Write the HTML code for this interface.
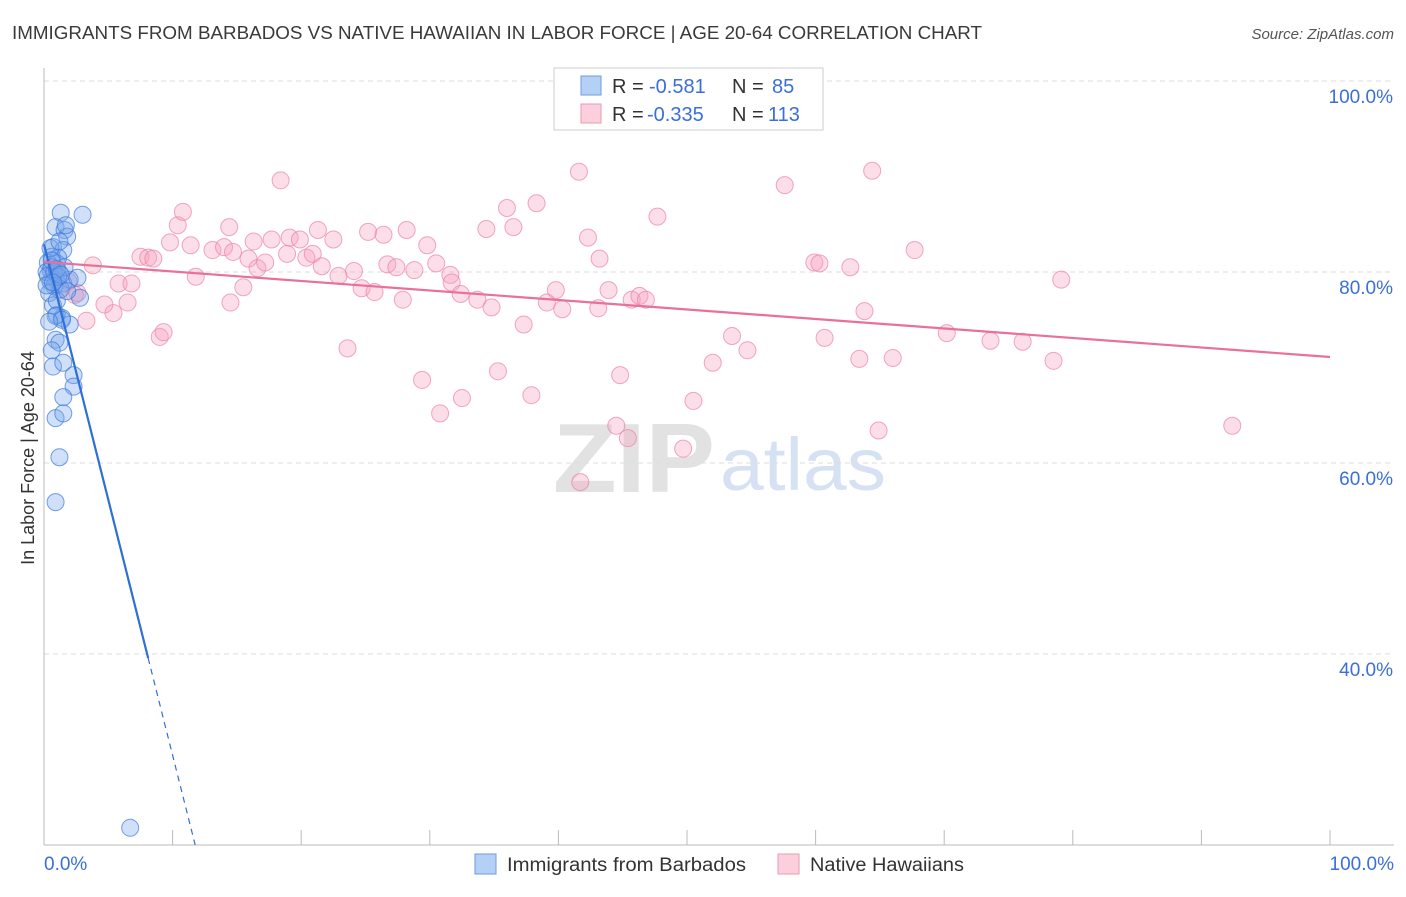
<!DOCTYPE html>
<html><head><meta charset="utf-8"><style>
body{margin:0;background:#fff;font-family:"Liberation Sans",sans-serif}
svg text{font-family:"Liberation Sans",sans-serif}
</style></head><body>
<svg id="chart" width="1406" height="892" viewBox="0 0 1406 892" xmlns="http://www.w3.org/2000/svg">
<text x="12" y="39" font-size="18" fill="#3a3a3a" textLength="970" lengthAdjust="spacingAndGlyphs">IMMIGRANTS FROM BARBADOS VS NATIVE HAWAIIAN IN LABOR FORCE | AGE 20-64 CORRELATION CHART</text>
<text x="1394" y="39" font-size="15" fill="#555" text-anchor="end" font-style="italic">Source: ZipAtlas.com</text>
<text x="553" y="492" font-size="98" fill="#e2e2e2" font-family="Liberation Serif" font-weight="bold" textLength="162" lengthAdjust="spacingAndGlyphs">ZIP</text>
<text x="720" y="490" font-size="74" fill="#d6e2f3" textLength="166" lengthAdjust="spacingAndGlyphs">atlas</text>
<text transform="translate(34,458) rotate(-90)" font-size="18" fill="#333" text-anchor="middle">In Labor Force | Age 20-64</text>
<g id="grid"></g><g id="axes"></g><g id="pts"></g><g id="lines"></g>
<g>
<rect x="554" y="68" width="269" height="62" fill="#fff" stroke="#ccc"/>
<rect x="581" y="76" width="20" height="19" fill="#b5d0f5" stroke="#6c9be0"/>
<rect x="581" y="104" width="20" height="19" fill="#fbcfdc" stroke="#ee9ab5"/>
<text x="612" y="93" font-size="20" fill="#333">R =</text>
<text x="649" y="93" font-size="20" fill="#3a6fd8">-0.581</text>
<text x="732" y="93" font-size="20" fill="#333">N =</text>
<text x="772" y="93" font-size="20" fill="#3a6fd8">85</text>
<text x="612" y="121" font-size="20" fill="#333">R =</text>
<text x="647" y="121" font-size="20" fill="#3a6fd8">-0.335</text>
<text x="732" y="121" font-size="20" fill="#333">N =</text>
<text x="768" y="121" font-size="20" fill="#3a6fd8">113</text>
</g>
<g>
<rect x="475" y="854" width="21" height="20" fill="#b5d0f5" stroke="#6c9be0"/>
<text x="507" y="871" font-size="19" fill="#333" textLength="239" lengthAdjust="spacingAndGlyphs">Immigrants from Barbados</text>
<rect x="778" y="854" width="21" height="20" fill="#fbcfdc" stroke="#ee9ab5"/>
<text x="810" y="871" font-size="19" fill="#333" textLength="154" lengthAdjust="spacingAndGlyphs">Native Hawaiians</text>
</g>
</svg>
<script>
const yTicks=[100,80,60,40];
const yTickLabels=["100.0%","80.0%","60.0%","40.0%"];
const xTickLabels=["0.0%","100.0%"];
const blueX=[1.3,3.0,0.9,1.6,1.8,0.7,1.5,0.6,1.0,0.5,1.2,0.9,1.5,2.0,2.6,2.8,1.0,1.4,2.0,0.9,1.2,0.6,0.7,1.5,2.3,2.3,1.5,0.9,1.5,1.2,0.9,6.7,0.3,0.5,0.8,0.4,1.1,0.6,1.3,0.7,1.0,0.2,1.6,1.8,0.5,1.2,1.7,0.9,1.4,0.4,0.3,0.8,1.1,0.6,0.2,1.0,1.3,0.7];
const blueY=[86.2,86.0,84.7,84.4,83.7,82.6,82.3,81.6,80.9,80.2,79.9,79.2,78.8,79.2,79.4,77.3,75.5,75.2,74.5,72.9,72.6,71.8,70.1,70.5,69.2,68.0,66.9,64.7,65.2,60.6,55.9,21.8,81.0,79.0,78.5,77.8,81.5,80.5,78.2,76.5,77.0,80.0,80.5,78.0,82.5,83.2,84.9,75.4,75.0,74.8,79.6,80.0,79.5,81.2,78.6,80.3,79.7,78.9];
const pinkX=[3.8,3.3,4.7,5.4,5.8,6.5,6.8,7.5,8.1,8.5,9.0,9.3,9.8,10.4,10.8,11.4,11.8,13.1,14.5,14.0,14.4,14.7,15.5,15.9,16.3,16.6,17.2,17.7,18.4,18.9,19.1,19.9,20.4,20.9,21.3,21.6,22.5,22.9,23.6,24.1,24.7,25.2,25.7,26.4,26.7,27.4,27.9,28.2,28.8,29.4,29.8,30.5,30.8,31.6,31.7,32.5,32.4,33.7,34.4,34.8,35.3,36.0,36.5,37.3,37.9,38.3,39.1,39.8,40.3,41.6,41.7,42.3,43.1,43.2,43.9,44.5,44.8,45.4,45.7,46.3,46.8,47.7,49.7,50.5,52.0,53.5,54.7,57.6,59.9,60.3,60.7,62.7,63.4,63.8,64.4,64.9,66.0,67.7,70.2,73.6,76.1,78.5,79.1,92.4,0.9,1.2,1.9,2.4,2.6];
const pinkY=[80.7,74.9,76.6,75.7,78.8,76.8,78.8,81.6,81.5,81.4,73.2,73.7,83.1,84.9,86.3,82.8,79.5,82.3,76.8,82.6,84.7,82.1,78.4,81.4,83.2,80.4,81.0,83.4,89.6,81.9,83.6,83.4,81.5,81.9,84.4,80.6,83.4,79.6,72.0,80.1,78.3,84.2,77.9,83.9,80.8,80.5,77.1,84.4,80.2,68.7,82.8,80.9,65.2,79.7,78.9,66.8,77.7,77.1,84.5,76.3,69.6,86.7,84.7,74.5,67.1,87.2,76.8,78.1,76.1,90.5,58.0,83.6,76.2,81.4,78.1,63.9,69.2,62.6,77.1,77.5,77.1,85.8,61.5,66.5,70.5,73.3,71.8,89.1,81.0,80.9,73.1,80.5,70.9,75.9,90.6,63.4,71.0,82.3,73.6,72.8,72.7,70.7,79.2,63.9,79.4,78.1,79.0,77.6,77.8];
const blueLine=[82.9,-5.35];
const pinkLine=[81.05,-0.0995];
const NS="http://www.w3.org/2000/svg";
const X=v=>44+v*12.86, Y=v=>81+(100-v)*9.55;
function mk(tag,attrs,parent){const e=document.createElementNS(NS,tag);for(const k in attrs)e.setAttribute(k,attrs[k]);document.getElementById(parent).appendChild(e);return e;}
yTicks.forEach((t,i)=>{
 const g=mk('line',{x1:44,x2:1394,y1:Y(t),y2:Y(t),stroke:'#ddd','stroke-dasharray':'5,4'},'grid');
 
 
 const l=mk('text',{x:1393,y:Y(t)+22,'font-size':19,fill:'#3a6fd8','text-anchor':'end'},'grid');
 l.textContent=yTickLabels[i];
 
 
});
const ax=mk('line',{x1:44,x2:44,y1:68,y2:845,stroke:'#bbb'},'axes');


const bx=mk('line',{x1:44,x2:1394,y1:845,y2:845,stroke:'#bbb'},'axes');


for(let i=1;i<=10;i++){const t=mk('line',{x1:X(i*10),x2:X(i*10),y1:830,y2:845,stroke:'#bbb'},'axes');
 
 }
[[0,'start',44],[100,'end',1394]].forEach((d,i)=>{const t=mk('text',{x:d[2],y:870,'font-size':19,fill:'#3a6fd8','text-anchor':d[1]},'axes');t.textContent=xTickLabels[i];
 
 });
pinkX.forEach((x,i)=>{const c=mk('circle',{cx:X(x),cy:Y(pinkY[i]),r:8.5,fill:'rgba(246,160,188,0.35)',stroke:'rgba(236,130,165,0.7)','stroke-width':1},'pts');
 
 });
blueX.forEach((x,i)=>{const c=mk('circle',{cx:X(x),cy:Y(blueY[i]),r:8.5,fill:'rgba(120,165,235,0.35)',stroke:'rgba(60,120,220,0.7)','stroke-width':1},'pts');
 
 });
const bEnd=8.1, bZero=(20-blueLine[0])/blueLine[1];
const b1=mk('line',{x1:X(0),y1:Y(blueLine[0]),x2:X(bEnd),y2:Y(blueLine[0]+blueLine[1]*bEnd),stroke:'#2f6fd8','stroke-width':2.2},'lines');


const b2=mk('line',{x1:X(bEnd),y1:Y(blueLine[0]+blueLine[1]*bEnd),x2:X(bZero),y2:Y(20),stroke:'#2f6fd8','stroke-width':1.2,'stroke-dasharray':'6,5'},'lines');


const p1=mk('line',{x1:X(0),y1:Y(pinkLine[0]),x2:X(100),y2:Y(pinkLine[0]+pinkLine[1]*100),stroke:'#e8709a','stroke-width':2.2},'lines');


</script>
</body></html>
